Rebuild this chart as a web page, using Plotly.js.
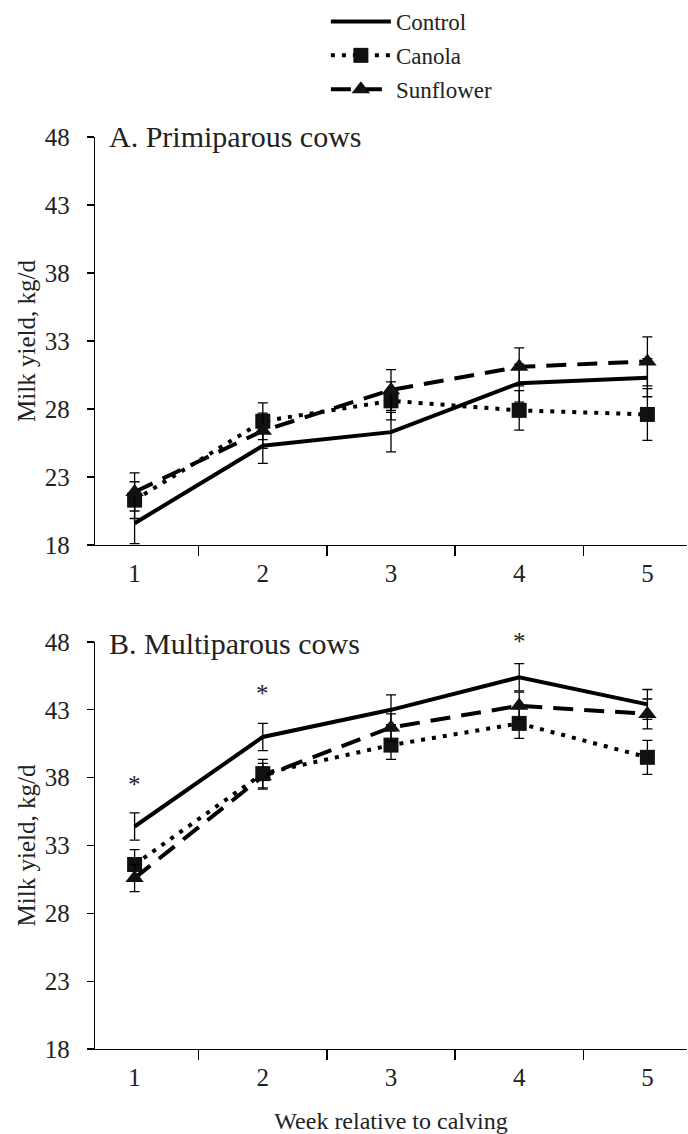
<!DOCTYPE html>
<html>
<head>
<meta charset="utf-8">
<script src="https://cdn.plot.ly/plotly-3.0.1.min.js"></script>
<style>html,body{margin:0;padding:0;background:#fff;}#chart{width:688px;height:1134px;}</style>
</head>
<body>
<div id="chart"></div>
<script>
// ---- data ----
const weeks = ['1', '2', '3', '4', '5'];
const seriesNames = ['Control', 'Canola', 'Sunflower'];

const primControl = [19.6, 25.3, 26.3, 29.9, 30.3];
const primControlSE = [1.5, 1.3, 1.45, 1.4, 1.4];
const primCanola = [21.3, 27.1, 28.6, 27.9, 27.6];
const primCanolaSE = [1.35, 1.35, 1.4, 1.45, 1.9];
const primSunflower = [21.9, 26.4, 29.4, 31.1, 31.5];
const primSunflowerSE = [1.4, 1.3, 1.5, 1.4, 1.8];

const multControl = [34.4, 41.0, 43.0, 45.4, 43.4];
const multControlSE = [1.0, 1.0, 1.1, 1.0, 1.1];
const multCanola = [31.6, 38.3, 40.4, 42.0, 39.5];
const multCanolaSE = [1.1, 1.05, 1.05, 1.1, 1.25];
const multSunflower = [30.6, 38.1, 41.7, 43.3, 42.7];
const multSunflowerSE = [1.0, 0.95, 1.0, 1.0, 1.1];

const sigWeeks = ['1', '2', '4'];
const sigY = [37.5, 44.2, 48.0];

const yTicks = [18, 23, 28, 33, 38, 43, 48];

// ---- styles ----
const FONT = '"Liberation Serif", "Times New Roman", serif';
const styles = {
  Control: {line: {color: '#000', width: 4, dash: 'solid'}, mode: 'lines'},
  Canola: {line: {color: '#000', width: 4, dash: '4px,7px'}, mode: 'lines+markers',
           marker: {symbol: 'square', size: 15, color: '#111'}},
  Sunflower: {line: {color: '#000', width: 4, dash: '20px,11px'}, mode: 'lines+markers',
              marker: {symbol: 'triangle-up', size: 16, color: '#111'}}
};

function mk(name, y, se, xa, ya, show) {
  const s = styles[name];
  const t = {
    type: 'scatter', x: weeks, y: y, name: name, xaxis: xa, yaxis: ya, legendgroup: name,
    mode: s.mode, line: s.line, showlegend: show, cliponaxis: false,
    error_y: {type: 'data', array: se, visible: true, color: '#000', thickness: 1.3, width: 5}
  };
  if (s.marker) t.marker = s.marker;
  return t;
}

const data = [
  mk('Control', primControl, primControlSE, 'x', 'y', true),
  mk('Canola', primCanola, primCanolaSE, 'x', 'y', true),
  mk('Sunflower', primSunflower, primSunflowerSE, 'x', 'y', true),
  mk('Control', multControl, multControlSE, 'x2', 'y2', false),
  mk('Canola', multCanola, multCanolaSE, 'x2', 'y2', false),
  mk('Sunflower', multSunflower, multSunflowerSE, 'x2', 'y2', false)
];

function xAxis(anchor, title) {
  const a = {
    type: 'category', anchor: anchor, domain: [0, 1],
    tickson: 'boundaries', ticks: 'outside', ticklen: 10, tickwidth: 1.3, tickcolor: '#000',
    showline: true, linecolor: '#000', linewidth: 1.3, showgrid: false, zeroline: false,
    ticklabelstandoff: 6,
    tickfont: {family: FONT, size: 25, color: '#222'}, fixedrange: true
  };
  if (title) a.title = {text: title, font: {family: FONT, size: 24, color: '#222'}, standoff: 24};
  return a;
}
function yAxis(anchor, domain) {
  return {
    anchor: anchor, domain: domain, range: [18, 48], tickmode: 'array', tickvals: yTicks,
    ticks: 'outside', ticklen: 7, tickwidth: 1.3, tickcolor: '#000',
    showline: true, linecolor: '#000', linewidth: 1.3, showgrid: false, zeroline: false,
    ticklabelstandoff: 12,
    tickfont: {family: FONT, size: 25, color: '#222'},
    title: {text: 'Milk yield, kg/d', font: {family: FONT, size: 25, color: '#222'}, standoff: 2}
  };
}

const annotations = [
  {text: 'A. Primiparous cows', xref: 'x domain', yref: 'y', x: 0.02, y: 48, yshift: 0, xanchor: 'left', yanchor: 'middle',
   showarrow: false, font: {family: FONT, size: 30, color: '#222'}},
  {text: 'B. Multiparous cows', xref: 'x2 domain', yref: 'y2', x: 0.02, y: 48, yshift: -2, xanchor: 'left', yanchor: 'middle',
   showarrow: false, font: {family: FONT, size: 30, color: '#222'}}
];
sigWeeks.forEach((w, i) => {
  annotations.push({text: '*', xref: 'x2', yref: 'y2', x: weeks.indexOf(w), y: sigY[i], showarrow: false,
    xanchor: 'center', yanchor: 'middle', font: {family: FONT, size: 25, color: '#222'}});
});

const layout = {
  width: 688, height: 1134,
  margin: {l: 95, r: 1, t: 0, b: 85},
  paper_bgcolor: '#fff', plot_bgcolor: '#fff',
  font: {family: FONT, color: '#222'},
  xaxis: xAxis('y', null),
  yaxis: yAxis('x', [0.48046, 0.86940]),
  xaxis2: xAxis('y2', 'Week relative to calving'),
  yaxis2: yAxis('x2', [0, 0.38799]),
  showlegend: true,
  legend: {x: 0.39, y: 1.0, xanchor: 'left', yanchor: 'top',
           bgcolor: 'rgba(0,0,0,0)', traceorder: 'grouped',
           font: {family: FONT, size: 23, color: '#222'}, itemwidth: 60, tracegroupgap: 1},
  annotations: annotations
};

Plotly.newPlot('chart', data, layout, {staticPlot: true, displayModeBar: false});
</script>
</body>
</html>
